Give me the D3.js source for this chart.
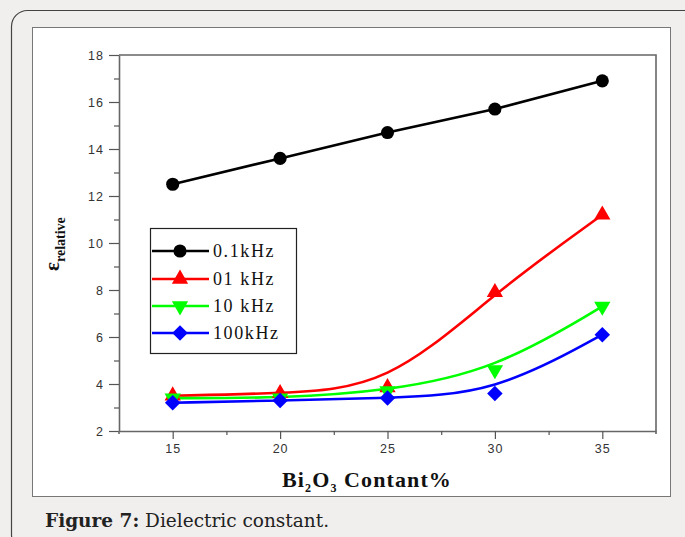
<!DOCTYPE html>
<html>
<head>
<meta charset="utf-8">
<script src="https://cdn.jsdelivr.net/npm/d3@7"></script>
<style>
  html, body { margin: 0; padding: 0; background: #f0efed; }
  svg { display: block; }
</style>
</head>
<body>
<div id="chart"></div>
<script>
const width = 685;
const height = 537;

// data
const contents = [15, 20, 25, 30, 35];
const eps01k = [12.5, 13.6, 14.7, 15.7, 16.9];
const eps1k = [3.5, 3.6, 3.85, 7.9, 11.2];
const eps10k = [3.4, 3.4, 3.7, 4.6, 7.3];
const eps100k = [3.2, 3.3, 3.4, 3.6, 6.1];
const seriesNames = ["0.1kHz", "01 kHz", "10 kHz", "100kHz"];
const xTicks = [15, 20, 25, 30, 35];
const yTicks = [2, 4, 6, 8, 10, 12, 14, 16, 18];

const series = [
  { name: seriesNames[0], values: eps01k, color: "#000000", symbol: d3.symbolCircle, curve: d3.curveLinear, size: 135, rot: 0 },
  { name: seriesNames[1], values: eps1k, color: "#ff0000", symbol: d3.symbolTriangle, curve: d3.curveBasis, size: 115, rot: 0 },
  { name: seriesNames[2], values: eps10k, color: "#00ff00", symbol: d3.symbolTriangle, curve: d3.curveBasis, size: 115, rot: 180 },
  { name: seriesNames[3], values: eps100k, color: "#0000ff", symbol: d3.symbolSquare, curve: d3.curveBasis, size: 120, rot: 45 }
];

const svg = d3.select("#chart").append("svg")
  .attr("width", width)
  .attr("height", height);

// outer rounded card
svg.append("rect")
  .attr("x", 11.5).attr("y", 10.5)
  .attr("width", 690).attr("height", 540)
  .attr("rx", 16)
  .attr("fill", "#f0efed")
  .attr("stroke", "#444")
  .attr("stroke-width", 1.2);

// white figure panel
svg.append("rect")
  .attr("x", 32.5).attr("y", 27.5)
  .attr("width", 638).attr("height", 469)
  .attr("fill", "#fff")
  .attr("stroke", "#777");

const plot = { left: 119, right: 656, top: 55, bottom: 431 };

const x = d3.scaleLinear().domain([12.5, 37.5]).range([plot.left, plot.right]);
const y = d3.scaleLinear().domain([2, 18]).range([plot.bottom, plot.top]);

// frame (top and right)
svg.append("path")
  .attr("d", `M${plot.left},${plot.top}H${plot.right}V${plot.bottom + 3}`)
  .attr("fill", "none")
  .attr("stroke", "#666")
  .attr("stroke-width", 1.6);

// x axis
svg.append("g")
  .attr("transform", `translate(0,${plot.bottom})`)
  .call(d3.axisBottom(x).tickValues(xTicks).tickSize(8).tickPadding(5).tickSizeOuter(0));
svg.append("g")
  .attr("transform", `translate(0,${plot.bottom})`)
  .call(d3.axisBottom(x).tickValues([17.5, 22.5, 27.5, 32.5]).tickSize(4).tickFormat("").tickSizeOuter(0))
  .call(g => g.select(".domain").remove());

// y axis
svg.append("g")
  .attr("transform", `translate(${plot.left},0)`)
  .call(d3.axisLeft(y).tickValues(yTicks).tickSize(10).tickPadding(5).tickSizeOuter(0));
svg.append("g")
  .attr("transform", `translate(${plot.left},0)`)
  .call(d3.axisLeft(y).tickValues([3, 5, 7, 9, 11, 13, 15, 17]).tickSize(5).tickFormat("").tickSizeOuter(0))
  .call(g => g.select(".domain").remove());

svg.selectAll(".domain").attr("stroke", "#666").attr("stroke-width", 1.6);
svg.selectAll(".tick line").attr("stroke", "#555").attr("stroke-width", 1.2);
svg.selectAll(".tick text")
  .attr("fill", "#333")
  .attr("font-family", "Liberation Sans, Arial, sans-serif")
  .attr("font-size", 12.5)
  .attr("letter-spacing", 1);
svg.append("line")
  .attr("x1", plot.left).attr("x2", plot.left)
  .attr("y1", plot.bottom).attr("y2", plot.bottom + 3)
  .attr("stroke", "#666").attr("stroke-width", 1.6);

// lines
const line = (curve) => d3.line()
  .x((d, i) => x(contents[i]))
  .y(d => y(d))
  .curve(curve);

series.forEach(s => {
  svg.append("path")
    .datum(s.values)
    .attr("fill", "none")
    .attr("stroke", s.color)
    .attr("stroke-width", 2.6)
    .attr("d", line(s.curve));
});

// markers
series.forEach(s => {
  svg.append("g")
    .selectAll("path")
    .data(s.values)
    .join("path")
    .attr("d", d3.symbol().type(s.symbol).size(s.size))
    .attr("transform", (d, i) => `translate(${x(contents[i])},${y(d)}) rotate(${s.rot})`)
    .attr("fill", s.color);
});

// legend
const legend = svg.append("g").attr("transform", "translate(150,228)");
legend.append("rect")
  .attr("x", 0.5).attr("y", 0.5)
  .attr("width", 146).attr("height", 125)
  .attr("fill", "#fff")
  .attr("stroke", "#222")
  .attr("stroke-width", 1.2);

const rowY = [23, 51, 78, 105];
series.forEach((s, i) => {
  const row = legend.append("g").attr("transform", `translate(0,${rowY[i]})`);
  row.append("line")
    .attr("x1", 2).attr("x2", 59)
    .attr("stroke", s.color)
    .attr("stroke-width", 2.6);
  row.append("path")
    .attr("d", d3.symbol().type(s.symbol).size(s.size))
    .attr("transform", `translate(30,0) rotate(${s.rot})`)
    .attr("fill", s.color);
  row.append("text")
    .attr("x", 63)
    .attr("y", 6)
    .attr("font-family", "Liberation Serif, Times New Roman, serif")
    .attr("font-size", 18)
    .attr("letter-spacing", 1.6)
    .attr("fill", "#111")
    .text(s.name);
});

// y axis title
const yTitle = svg.append("text")
  .attr("transform", "translate(59,271) rotate(-90)")
  .attr("font-family", "Liberation Serif, Times New Roman, serif")
  .attr("font-weight", "bold")
  .attr("fill", "#111");
yTitle.append("tspan").attr("font-size", 21).text("ε");
yTitle.append("tspan").attr("font-size", 14).attr("dy", 6).text("relative");

// x axis title
const xTitle = svg.append("text")
  .attr("x", 367)
  .attr("y", 487)
  .attr("text-anchor", "middle")
  .attr("font-family", "Liberation Serif, Times New Roman, serif")
  .attr("font-weight", "bold")
  .attr("font-size", 22)
  .attr("letter-spacing", 1.1)
  .attr("fill", "#111");
xTitle.append("tspan").text("Bi");
xTitle.append("tspan").attr("font-size", 12).attr("dy", 5).text("2");
xTitle.append("tspan").attr("dy", -5).text("O");
xTitle.append("tspan").attr("font-size", 12).attr("dy", 5).text("3");
xTitle.append("tspan").attr("dy", -5).text(" Contant%");

// caption
const caption = svg.append("text")
  .attr("x", 45)
  .attr("y", 527)
  .attr("font-family", "DejaVu Serif, Liberation Serif, serif")
  .attr("font-size", 18.5)
  .attr("fill", "#222");
caption.append("tspan").attr("font-weight", "bold").text("Figure 7:");
caption.append("tspan").text(" Dielectric constant.");
</script>
</body>
</html>
